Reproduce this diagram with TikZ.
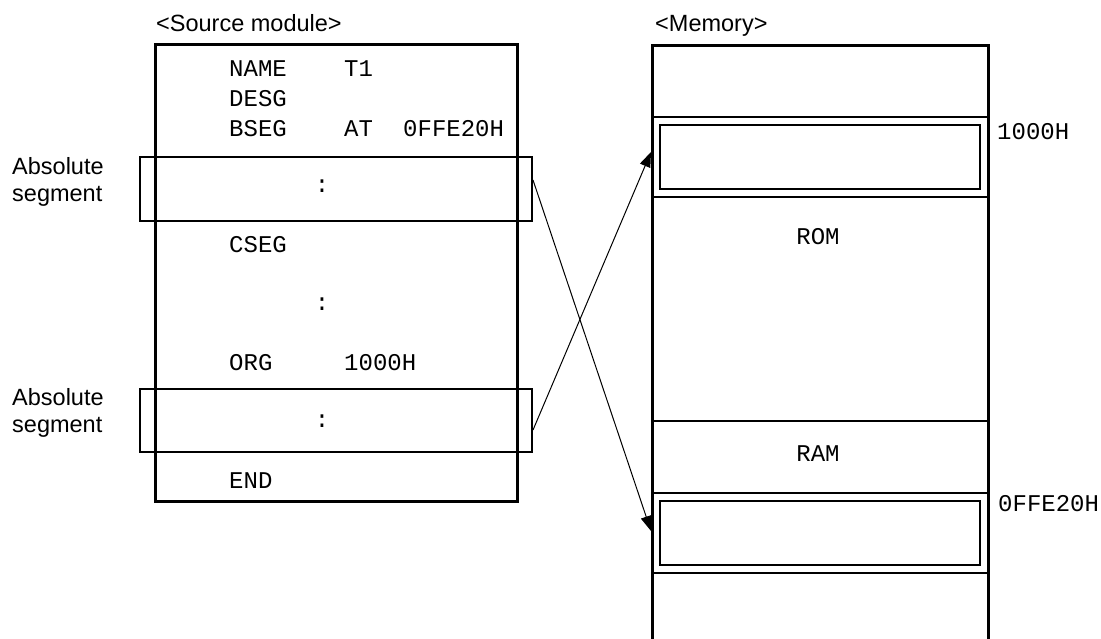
\documentclass[tikz,border=0pt]{standalone}
\usepackage{fontspec}
\setmainfont{Liberation Sans}
\setmonofont{Liberation Mono}
\usetikzlibrary{arrows.meta}

\tikzset{
  code/.style={font=\ttfamily\fontsize{24}{28}\selectfont, inner sep=0pt, anchor=base west},
  caption/.style={font=\fontsize{23.5}{27.5}\selectfont, inner sep=0pt},
  segbox/.style={draw, line width=2pt, inner sep=0pt},
  maparrow/.style={line width=1pt, -{Triangle[length=15pt,width=11pt]}}
}

\begin{document}
\begin{tikzpicture}[x=1pt, y=-1pt]
  \useasboundingbox (0,0) rectangle (1101,639);
  % source module
  \node[caption, anchor=base west] (srctitle) at (156,32) {<Source module>};
  \draw[line width=3pt] (155,45) rectangle (517,501);                     % module frame
  \node[segbox, minimum width=392, minimum height=64] (absA) at (336,189) {};   % first absolute segment
  \node[segbox, minimum width=392, minimum height=63] (absB) at (336,420.5) {}; % second absolute segment
  \node[caption, align=left, anchor=north west] (labA) at (12,157) {Absolute\\segment};
  \node[caption, align=left, anchor=north west] (labB) at (12,388) {Absolute\\segment};
  % source lines
  \node[code] (name) at (229,77) {NAME};
  \node[code] (t1) at (344,77) {T1};
  \node[code] (desg) at (229,107) {DESG};
  \node[code] (bseg) at (229,137) {BSEG};
  \node[code] (at) at (344,137) {AT};
  \node[code] (addrB) at (403,137) {0FFE20H};
  \node[code, anchor=base] (dotsA) at (322,193) {:};
  \node[code] (cseg) at (229,253) {CSEG};
  \node[code, anchor=base] (dotsC) at (322,310) {:};
  \node[code] (org) at (229,370) {ORG};
  \node[code] (addrC) at (344,370) {1000H};
  \node[code, anchor=base] (dotsB) at (322,427) {:};
  \node[code] (end) at (229,488) {END};
  % memory
  \node[caption, anchor=base west] (memtitle) at (655,32) {<Memory>};
  \draw[line width=3pt] (652,645) -- (652,46) -- (988,46) -- (988,645);   % memory frame, open below
  \foreach \y in {117,197,421,493,573}
    \draw[line width=2pt] (652,\y) -- (988,\y);                         % area borders
  \node[segbox, minimum width=320, minimum height=64] (romseg) at (820,157) {};
  \node[segbox, minimum width=320, minimum height=64] (ramseg) at (820,533) {};
  \node[code, anchor=base] (rom) at (818,245) {ROM};
  \node[code, anchor=base] (ram) at (818,461) {RAM};
  \node[code] (romaddr) at (997,140) {1000H};
  \node[code] (ramaddr) at (998,511) {0FFE20H};
  % mapping
  \draw[maparrow] ([yshift=9pt]absA.east) -- ([xshift=-8pt,yshift=2pt]ramseg.west);
  \draw[maparrow] ([yshift=-9.5pt]absB.east) -- ([xshift=-8pt,yshift=5pt]romseg.west);
\end{tikzpicture}
\end{document}
